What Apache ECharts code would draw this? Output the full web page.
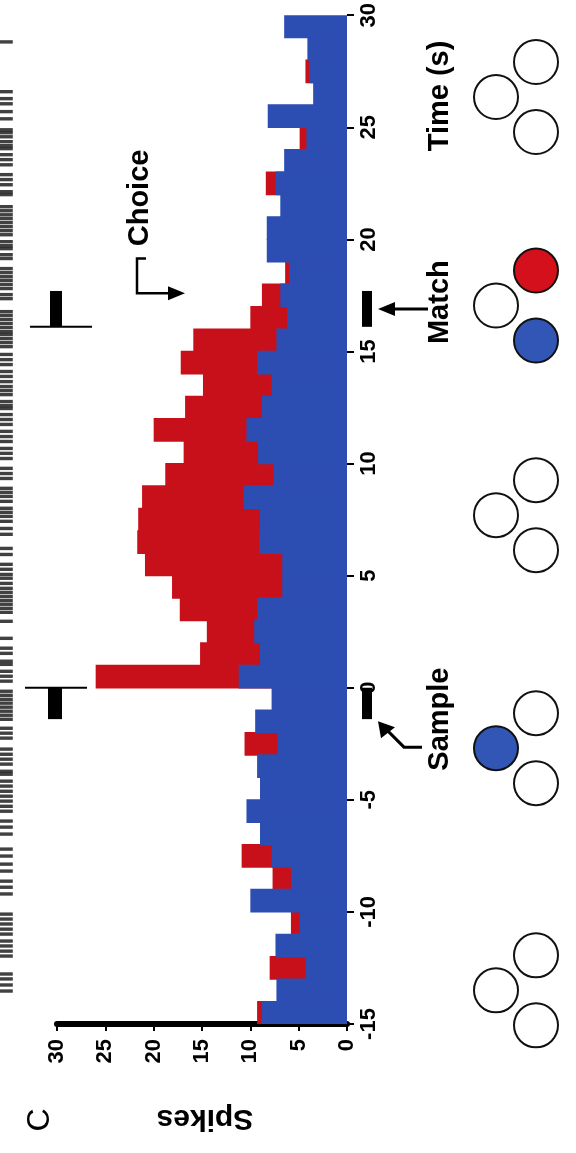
<!DOCTYPE html>
<html><head><meta charset="utf-8">
<script src="https://cdn.jsdelivr.net/npm/echarts/dist/echarts.min.js"></script>
<style>html,body{margin:0;padding:0;background:#fff}#c{width:576px;height:1153px}</style>
</head><body><div id="c"></div>
<script>
// ---- data (1-s bins, start time of each bin) ----
const binStarts = ['-15','-14','-13','-12','-11','-10','-9','-8','-7','-6','-5','-4','-3','-2','-1',
  '0','1','2','3','4','5','6','7','8','9','10','11','12','13','14','15','16','17','18','19','20',
  '21','22','23','24','25','26','27','28','29'];
const blueSpikes = [8.8,7.3,4.3,7.4,4.9,10.0,5.8,7.8,9.0,10.4,9.0,9.3,7.2,9.5,7.8,
  11.2,9.0,9.6,9.3,6.7,6.7,9.1,9.0,10.7,7.6,9.2,10.4,8.8,7.8,9.3,7.3,6.2,6.9,6.0,8.3,8.3,
  6.9,7.4,6.5,4.2,8.2,3.5,3.9,4.1,6.5];
const redSpikes = [9.3,null,8.0,null,5.8,null,7.7,10.9,null,null,null,null,10.6,null,null,
  26.0,15.2,14.5,17.3,18.1,20.9,21.7,21.6,21.2,18.8,16.9,20.0,16.75,14.9,17.2,15.9,10.0,8.8,6.4,null,null,
  null,8.4,null,4.9,null,null,4.3,null,null];
const rasterTimes = [-13.53,-13.26,-12.99,-12.77,-11.97,-11.75,-11.52,-11.3,-10.99,-10.77,-10.54,-10.32,-10.1,
  -9.2,-8.9,-8.63,-8.18,-7.87,-7.51,-7.2,-6.53,-6.22,-5.95,-5.51,-5.29,-5.06,-4.84,-4.62,-4.39,-4.17,
  -3.86,-3.73,-3.41,-3.19,-2.97,-2.74,-2.25,-2.03,-1.81,-1.41,-1.23,-1.05,-0.87,-0.69,-0.52,-0.34,-0.16,
  0.29,0.51,0.73,1.04,1.18,1.53,1.76,2.2,2.96,3.36,3.54,3.72,3.89,4.07,4.25,4.43,4.65,4.88,5.05,5.28,5.5,
  5.94,6.21,6.84,7.1,7.42,7.64,7.82,8.0,8.31,8.53,8.71,8.89,9.33,9.55,9.78,10.22,10.45,10.67,10.98,11.2,
  11.43,11.74,11.96,12.18,12.45,12.58,12.76,13.07,13.25,13.43,13.65,13.88,14.1,14.41,14.63,14.86,15.21,
  15.39,15.57,15.75,15.88,16.06,16.24,16.42,16.6,16.77,17.35,17.53,17.8,17.98,18.16,18.33,18.51,18.69,
  19.14,19.31,19.58,19.71,19.89,20.2,20.38,20.56,20.74,20.92,21.09,21.27,21.45,21.99,22.12,22.43,22.66,
  22.88,23.32,23.55,23.77,24.04,24.17,24.35,24.57,24.75,24.88,25.37,25.69,26.04,26.27,26.58,28.8];
// events (s)
const sampleEvent = [0, -1.4];     // line time, block end time
const matchEvent = [16.1, 17.7];
const choiceTime = 17.6;
// stimulus displays: centre time and fills [left, upper-right, lower-right]
const displayTimes = [-13.5, -2.7, 7.7, 17.05, 26.35];
const displayFills = [['w','w','w'],['b','w','w'],['w','w','w'],['w','r','b'],['w','w','w']];

const RED = '#c8101a', BLUE = '#2c4db2';
const FONT = '"Liberation Sans", Arial, Helvetica, sans-serif';
const chart = echarts.init(document.getElementById('c'), null, {renderer:'canvas'});
const lbl = {rotate:90, fontSize:22, fontWeight:'bold', color:'#000', fontFamily:FONT};
chart.setOption({
  animation:false,
  backgroundColor:'#fff',
  grid:[{left:57, right:229, top:15, bottom:129},{left:0, width:14, top:15, bottom:129}],
  xAxis:[
    {gridIndex:0, type:'value', min:0, max:30, interval:5, inverse:true,
     axisLine:{show:true, onZero:false, lineStyle:{color:'#000', width:6}},
     axisTick:{show:true, length:7, lineStyle:{color:'#000', width:2}},
     axisLabel:Object.assign({margin:15}, lbl), splitLine:{show:false}},
    {gridIndex:1, type:'value', min:0, max:1, show:false}
  ],
  yAxis:[
    {gridIndex:0, type:'category', data:binStarts, show:false},
    {gridIndex:0, type:'value', min:-15, max:30, interval:5, position:'right',
     axisLine:{show:false, onZero:false},
     axisTick:{show:true, length:7, lineStyle:{color:'#000', width:2}},
     axisLabel:Object.assign({margin:11, showMinLabel:true, showMaxLabel:true}, lbl), splitLine:{show:false}},
    {gridIndex:1, type:'value', min:-15, max:30, show:false}
  ],
  series:[
    {type:'bar', xAxisIndex:0, yAxisIndex:0, data:redSpikes, barGap:'-100%', barWidth:'106%',
     itemStyle:{color:RED}, z:2},
    {type:'bar', xAxisIndex:0, yAxisIndex:0, data:blueSpikes, barGap:'-100%', barWidth:'106%',
     itemStyle:{color:BLUE}, z:3},
    {type:'scatter', xAxisIndex:1, yAxisIndex:2, data:rasterTimes.map(t=>[0.45,t]),
     symbol:'rect', symbolSize:[13,3.4], itemStyle:{color:'#111'}, silent:true}
  ]
});

const yOf = t => chart.convertToPixel({yAxisIndex:1}, t);
const g = [];
function line(pts, w){ g.push({type:'polyline', shape:{points:pts}, style:{stroke:'#000', lineWidth:w||2, fill:null}, z:10}); }
function tri(pts){ g.push({type:'polygon', shape:{points:pts}, style:{fill:'#000'}, z:10}); }
function rect(x1,y1,x2,y2){ g.push({type:'rect', shape:{x:Math.min(x1,x2), y:Math.min(y1,y2), width:Math.abs(x2-x1), height:Math.abs(y2-y1)}, style:{fill:'#000'}, z:10}); }
function text(s, x, y, rot, size, weight){
  g.push({type:'text', x:x, y:y, rotation:rot, z:10,
    style:{text:s, fill:'#000', font:(weight||'bold')+' '+size+'px '+FONT,
      align:'center', verticalAlign:'middle', textAlign:'center', textVerticalAlign:'middle'}});
}
// raster event markers
let ys = yOf(sampleEvent[0]), ye = yOf(sampleEvent[1]);
line([[25,ys],[87,ys]], 2); rect(48,ys,62,ye);
let ms = yOf(matchEvent[0]), me = yOf(matchEvent[1]);
line([[30,ms],[92,ms]], 2); rect(50,ms,62,me);
// axis-side event bars
rect(362,ys,372,ye); rect(362,ms,372,me);
// match arrow
let ya = (ms+me)/2;
line([[428,ya],[392,ya]], 3); tri([[378,ya],[395,ya-7],[395,ya+7]]);
// sample arrow
let yb = ye + 28;
line([[422,yb],[404,yb],[388,ye+12]], 3); tri([[378,ye+2],[381,ye+19],[395,ye+8]]);
// choice bracket arrow
let yc = yOf(choiceTime), yc1 = yOf(choiceTime+1.55);
line([[146,yc1],[137,yc1],[137,yc],[172,yc]], 2.5); tri([[185,yc],[168,yc-7],[168,yc+7]]);
// labels
text('Choice', 140, yOf(21.85), Math.PI/2, 29);
text('Time (s)', 440, yOf(26.4), Math.PI/2, 29);
text('Match', 440, yOf(17.2), Math.PI/2, 29);
text('Sample', 440, yOf(-1.4), Math.PI/2, 29);
text('Spikes', 205, 1118, Math.PI, 30);
text('C', 40, 1120, Math.PI/2, 32, 'normal');
// displays
const fillMap = {w:'#fff', r:'#d4101c', b:'#3256b5'};
displayTimes.forEach((t,i)=>{
  const yc0 = yOf(t);
  const pos = [[496,yc0],[536,yc0-35],[536,yc0+35]];
  pos.forEach((p,j)=>g.push({type:'circle', shape:{cx:p[0], cy:p[1], r:22},
    style:{fill:fillMap[displayFills[i][j]], stroke:'#111', lineWidth:2}, z:10}));
});
chart.setOption({graphic:g});
</script></body></html>
